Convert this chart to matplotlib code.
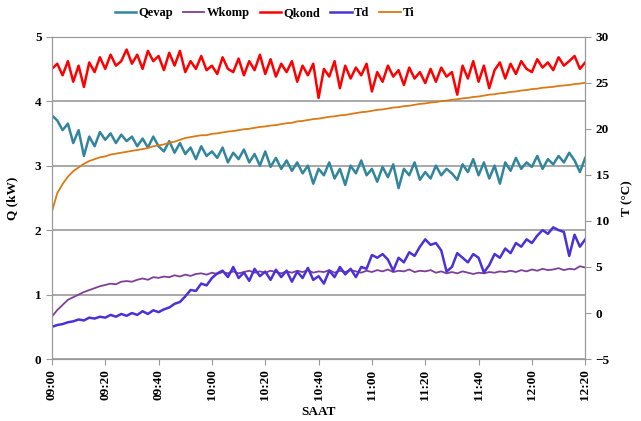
import matplotlib
matplotlib.use("Agg")
import matplotlib.pyplot as plt
import numpy as np

plt.rcParams["font.family"] = ["Liberation Serif", "DejaVu Serif"]
plt.rcParams["font.weight"] = "bold"

# time in minutes from 09:00, one reading every 2 minutes
minutes = list(range(0, 201, 2))
tick_minutes = [0, 20, 40, 60, 80, 100, 120, 140, 160, 180, 200]
tick_labels = ["09:00", "09:20", "09:40", "10:00", "10:20", "10:40",
               "11:00", "11:20", "11:40", "12:00", "12:20"]

# kW (left axis)
qevap = [3.78, 3.70, 3.55, 3.65, 3.35, 3.55, 3.15, 3.45, 3.30, 3.52,
         3.40, 3.50, 3.35, 3.48, 3.38, 3.45, 3.30, 3.42, 3.28, 3.45,
         3.30, 3.22, 3.38, 3.20, 3.35, 3.18, 3.28, 3.10, 3.30, 3.15,
         3.22, 3.12, 3.28, 3.05, 3.20, 3.10, 3.25, 3.05, 3.18, 3.00,
         3.22, 2.98, 3.12, 2.95, 3.08, 2.92, 3.05, 2.88, 3.00, 2.72,
         2.95, 2.85, 3.05, 2.80, 2.95, 2.70, 3.00, 2.88, 3.08, 2.85,
         2.95, 2.75, 2.98, 2.82, 3.02, 2.65, 2.95, 2.85, 3.05, 2.78,
         2.90, 2.80, 3.00, 2.85, 2.95, 2.88, 2.78, 3.02, 2.90, 3.10,
         2.85, 3.05, 2.80, 3.00, 2.72, 3.05, 2.92, 3.12, 2.95, 3.05,
         2.98, 3.15, 2.95, 3.10, 3.02, 3.15, 3.05, 3.20, 3.08, 2.90,
         3.12]
wkomp = [0.66, 0.76, 0.84, 0.92, 0.96, 1.00, 1.04, 1.07, 1.10, 1.13,
         1.15, 1.17, 1.16, 1.20, 1.21, 1.20, 1.23, 1.25, 1.23, 1.27,
         1.26, 1.28, 1.27, 1.30, 1.28, 1.31, 1.29, 1.32, 1.33, 1.31,
         1.34, 1.32, 1.35, 1.33, 1.36, 1.33, 1.35, 1.37, 1.34, 1.36,
         1.34, 1.37, 1.35, 1.33, 1.36, 1.34, 1.37, 1.35, 1.38, 1.34,
         1.36, 1.35, 1.38, 1.34, 1.37, 1.35, 1.38, 1.36, 1.34, 1.37,
         1.35, 1.38, 1.36, 1.39, 1.35, 1.37, 1.36, 1.39, 1.35, 1.37,
         1.36, 1.38, 1.34, 1.36, 1.33, 1.35, 1.33, 1.36, 1.34, 1.32,
         1.34, 1.33, 1.35, 1.34, 1.36, 1.35, 1.37, 1.35, 1.38, 1.36,
         1.39, 1.37, 1.40, 1.38, 1.39, 1.41, 1.38, 1.40, 1.39, 1.44,
         1.42]
qkond = [4.50, 4.58, 4.40, 4.62, 4.30, 4.55, 4.22, 4.60, 4.45, 4.68,
         4.50, 4.72, 4.55, 4.62, 4.80, 4.58, 4.72, 4.50, 4.78, 4.62,
         4.70, 4.48, 4.75, 4.55, 4.78, 4.45, 4.62, 4.50, 4.70, 4.48,
         4.55, 4.42, 4.68, 4.50, 4.45, 4.66, 4.40, 4.62, 4.48, 4.72,
         4.42, 4.65, 4.38, 4.58, 4.45, 4.62, 4.30, 4.55, 4.40, 4.58,
         4.05, 4.50, 4.38, 4.62, 4.20, 4.55, 4.35, 4.52, 4.40, 4.58,
         4.15, 4.45, 4.30, 4.55, 4.38, 4.48, 4.25, 4.52, 4.35, 4.45,
         4.28, 4.50, 4.30, 4.52, 4.38, 4.45, 4.10, 4.55, 4.35, 4.62,
         4.30, 4.55, 4.20, 4.48, 4.60, 4.35, 4.58, 4.42, 4.62, 4.50,
         4.45, 4.65, 4.52, 4.60, 4.48, 4.68, 4.55, 4.62, 4.70, 4.50,
         4.60]

# deg C (right axis)
td = [-1.5, -1.3, -1.2, -1.0, -0.9, -0.7, -0.8, -0.5, -0.6, -0.4,
      -0.5, -0.2, -0.4, -0.1, -0.3, 0.0, -0.2, 0.2, -0.1, 0.3,
      0.1, 0.4, 0.6, 1.0, 1.2, 1.8, 2.5, 2.4, 3.2, 3.0,
      3.8, 4.3, 4.6, 3.9, 5.0, 3.8, 4.4, 3.5, 4.8, 4.0,
      4.5, 3.6, 4.7, 3.9, 4.6, 3.4, 4.5, 3.8, 4.9, 3.6,
      4.0, 3.2, 4.6, 3.9, 5.0, 4.2, 4.8, 3.9, 5.0, 4.8,
      6.3, 6.0, 6.4, 5.8, 4.6, 6.0, 5.5, 6.6, 6.2, 7.2,
      8.0, 7.4, 7.6, 6.8, 4.5, 5.0, 6.5, 6.0, 5.5, 6.4,
      6.0, 4.4, 5.2, 6.4, 6.0, 7.0, 6.5, 7.6, 7.2, 8.0,
      7.6, 8.4, 9.0, 8.6, 9.3, 9.0, 8.8, 6.2, 8.5, 7.2,
      8.0]
ti = [11.0, 13.0, 14.0, 14.8, 15.4, 15.8, 16.2, 16.5, 16.7, 16.9,
      17.0, 17.2, 17.3, 17.4, 17.5, 17.6, 17.7, 17.8, 17.9, 18.1,
      18.2, 18.3, 18.5, 18.6, 18.8, 19.0, 19.1, 19.2, 19.3, 19.3,
      19.45, 19.5, 19.6, 19.7, 19.75, 19.85, 19.95, 20.0, 20.1, 20.2,
      20.25, 20.35, 20.4, 20.5, 20.6, 20.65, 20.8, 20.85, 20.95, 21.05,
      21.1, 21.2, 21.3, 21.35, 21.45, 21.5, 21.6, 21.7, 21.8, 21.85,
      21.95, 22.05, 22.1, 22.2, 22.3, 22.35, 22.45, 22.5, 22.6, 22.7,
      22.75, 22.85, 22.9, 23.0, 23.05, 23.15, 23.2, 23.3, 23.35, 23.45,
      23.5, 23.6, 23.7, 23.75, 23.85, 23.9, 24.0, 24.05, 24.15, 24.2,
      24.3, 24.35, 24.45, 24.5, 24.55, 24.65, 24.7, 24.75, 24.85, 24.9,
      25.0]

fig = plt.figure(figsize=(6.41, 4.21), dpi=100)
ax = fig.add_axes([0.081, 0.147, 0.832, 0.766])
ax2 = ax.twinx()

l1, = ax.plot(minutes, qevap, color="#31859C", lw=1.8, label="Qevap")
l2, = ax.plot(minutes, wkomp, color="#7F3F98", lw=1.3, label="Wkomp")
l3, = ax.plot(minutes, qkond, color="#FF0000", lw=1.8, label="Qkond")
l4, = ax2.plot(minutes, td, color="#4A32D8", lw=1.8, label="Td")
l5, = ax2.plot(minutes, ti, color="#DA7A16", lw=1.3, label="Ti")

ax.set_xlim(0, 200)
ax.set_ylim(0, 5)
ax2.set_ylim(-5, 30)
ax.set_yticks([0, 1, 2, 3, 4, 5])
ax2.set_yticks([-5, 0, 5, 10, 15, 20, 25, 30])
ax.set_xticks(tick_minutes)
ax.set_xticklabels(tick_labels, rotation=90)
ax.yaxis.grid(True, color="#999999", lw=1.2)
ax.set_axisbelow(True)

for a in (ax, ax2):
    for s in a.spines.values():
        s.set_color("#999999")
    a.tick_params(labelsize=9.5, color="#999999", length=4)
ax.spines["top"].set_color("#b0c4d8")

ax.set_xlabel("SAAT", fontsize=9.5, fontweight="bold")
ax.set_ylabel("Q (kW)", fontsize=9.5, fontweight="bold", labelpad=12)
ax2.set_ylabel("T (\u00b0C)", fontsize=9.5, fontweight="bold", labelpad=8)

fig.legend(handles=[l1, l2, l3, l4, l5], loc="upper center",
           bbox_to_anchor=(0.413, 1.01), ncol=5, frameon=False,
           fontsize=9, handlelength=1.7, handletextpad=0.2, columnspacing=0.8)

fig.savefig("out.png", dpi=100)
